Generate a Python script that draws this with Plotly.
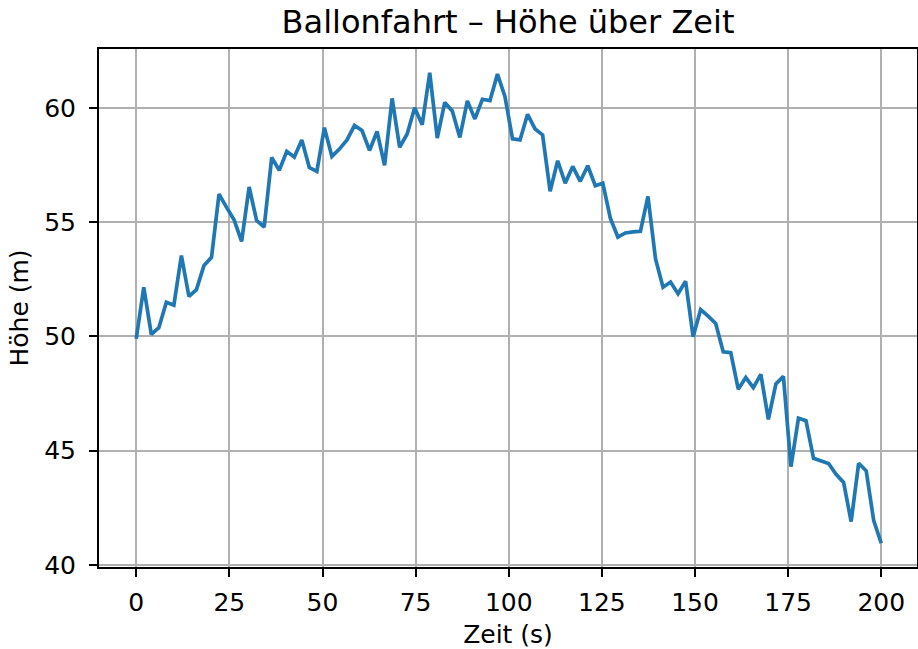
import numpy as np
import plotly.graph_objects as go

# Flight time in seconds: 100 evenly spaced samples from 0 to 200 s
zeit = np.linspace(0, 200, 100)

# Measured balloon altitude in metres
hoehe = [
    49.90, 52.15, 50.09, 50.38, 51.50, 51.37, 53.54, 51.75, 52.05, 53.11,
    53.46, 56.23, 55.65, 55.10, 54.16, 56.54, 55.07, 54.79, 57.83, 57.27,
    58.10, 57.85, 58.60, 57.39, 57.22, 59.14, 57.88, 58.20, 58.60, 59.23,
    59.01, 58.14, 58.97, 57.49, 60.42, 58.28, 58.86, 60.01, 59.26, 61.54,
    58.68, 60.24, 59.87, 58.71, 60.31, 59.52, 60.38, 60.32, 61.48, 60.49,
    58.65, 58.60, 59.72, 59.08, 58.82, 56.35, 57.69, 56.71, 57.44, 56.79,
    57.47, 56.60, 56.71, 55.18, 54.35, 54.53, 54.58, 54.60, 56.13, 53.40,
    52.15, 52.38, 51.87, 52.42, 49.99, 51.18, 50.89, 50.57, 49.33, 49.29,
    47.69, 48.20, 47.76, 48.34, 46.37, 47.92, 48.25, 44.30, 46.42, 46.31,
    44.67, 44.56, 44.44, 43.97, 43.61, 41.90, 44.45, 44.12, 41.94, 40.95,
]

x_ticks = [0, 25, 50, 75, 100, 125, 150, 175, 200]
y_ticks = [40, 45, 50, 55, 60]

FONT = "DejaVu Sans, Liberation Sans, sans-serif"

fig = go.Figure(
    go.Scatter(
        x=zeit,
        y=hoehe,
        mode="lines",
        line=dict(color="#1f77b4", width=3.7),
        showlegend=False,
    )
)

axis_common = dict(
    automargin=False,
    showline=True,
    linecolor="black",
    linewidth=2,
    mirror=True,
    showgrid=True,
    gridcolor="#b0b0b0",
    gridwidth=2,
    zeroline=False,
    ticks="outside",
    ticklen=8,
    tickwidth=2,
    tickcolor="black",
    tickfont=dict(family=FONT, size=25, color="black"),
)

fig.update_xaxes(
    **axis_common,
    range=[-10, 209.6],
    tickvals=x_ticks,
    ticklabelstandoff=4,
    title=dict(text="Zeit (s)", font=dict(family=FONT, size=25, color="black"), standoff=12),
)
fig.update_yaxes(
    **axis_common,
    range=[39.91, 62.58],
    tickvals=y_ticks,
    ticklabelstandoff=8,
    title=dict(text="Höhe (m)", font=dict(family=FONT, size=25, color="black"), standoff=8),
)

fig.update_layout(
    width=918,
    height=649,
    autosize=False,
    margin=dict(l=99, r=1, t=49, b=82),
    paper_bgcolor="white",
    plot_bgcolor="white",
    title=dict(
        text="Ballonfahrt – Höhe über Zeit",
        font=dict(family=FONT, size=32, color="black"),
        xref="paper",
        x=0.5,
        xanchor="center",
        yref="container",
        y=1 - 22 / 649,
        yanchor="middle",
    ),
)

fig.write_html("out.html")
